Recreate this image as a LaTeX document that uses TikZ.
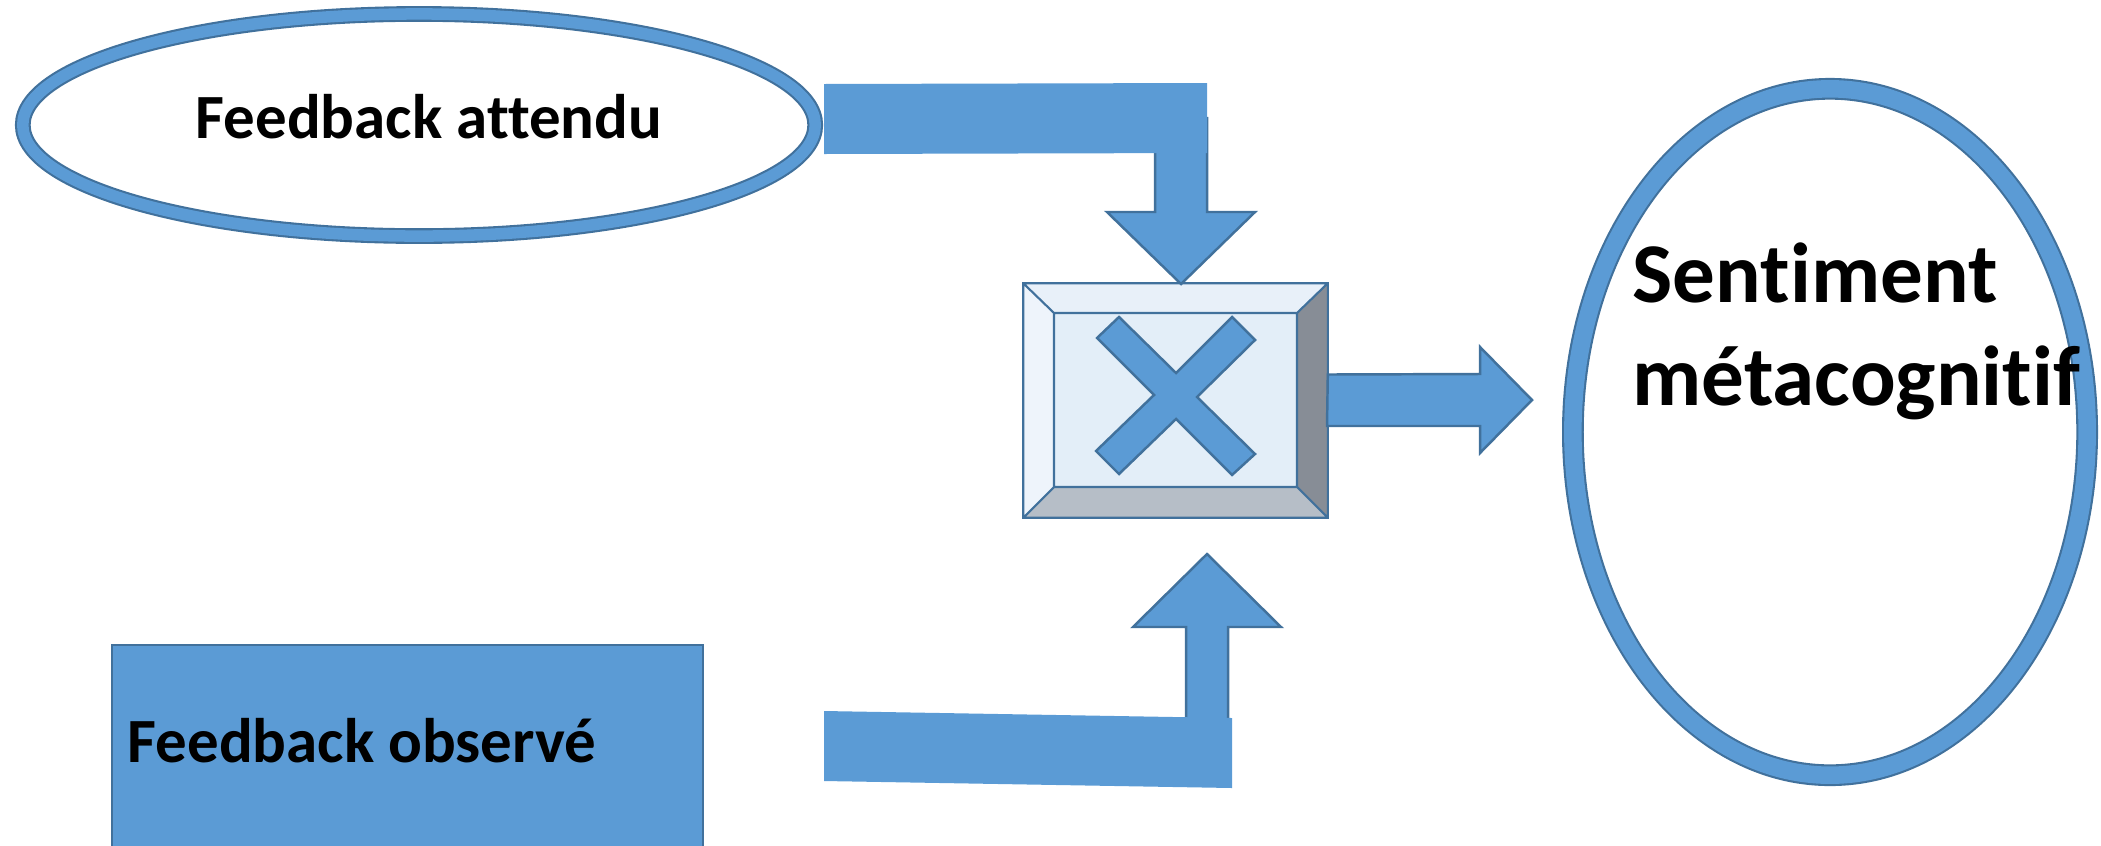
\documentclass[tikz,border=0pt]{standalone}
\usepackage{fontspec}
\setmainfont{Carlito}[Ligatures=NoCommon]
\usetikzlibrary{shapes.geometric}
\definecolor{oblue}{HTML}{5B9BD5}
\definecolor{oline}{HTML}{41719C}
\definecolor{bvtop}{HTML}{E8F0F9}
\definecolor{bvleft}{HTML}{EEF4FB}
\definecolor{bvright}{HTML}{878D96}
\definecolor{bvbottom}{HTML}{B6BEC7}
\definecolor{bvface}{HTML}{E3EEF8}

\begin{document}
\begin{tikzpicture}[x=0.01cm, y=-0.01cm,
  ring/.style={ellipse, draw=oline, line width=0.6pt, double=oblue, fill=white, inner sep=0pt},
  blockarrow/.style={fill=oblue, draw=oline, line width=0.7pt, line join=miter},
  lbl/.style={font=\bfseries\fontsize{17.9}{21}\selectfont, anchor=base west, inner sep=0pt},
  biglbl/.style={font=\bfseries\fontsize{24.2}{29.3}\selectfont, anchor=base west, inner sep=0pt}]
 \clip (0,0) rectangle (2101,845);
 % the three sources and the result
 \node[ring, double distance=1.15mm, minimum width=7.92cm, minimum height=2.22cm] (attendu) at (419,125) {};
 \node[ring, double distance=1.75mm, minimum width=5.14cm, minimum height=6.86cm] (sentiment) at (1830,432) {};
 \node[draw=oline, fill=oblue, line width=0.6pt, minimum width=5.91cm, minimum height=2.4cm, anchor=north west, inner sep=0pt] (observe) at (111,644) {};
 \node[lbl] (attendulbl) at (195,138) {Feedback attendu};
 \node[lbl] (observelbl) at (127,762) {Feedback observé};
 \node[biglbl] (sentimentlbl) at (1632,302) {Sentiment};
 \node[biglbl] (sentimentlbl2) at (1632,405) {métacognitif};
 % bevelled multiply box
 \node[minimum width=3.03cm, minimum height=2.33cm, inner sep=0pt] (mult) at (1175.5,400.5) {};
 \fill[bvtop] (1024,284) -- (1327,284) -- (1297,313) -- (1054,313) -- cycle;
 \fill[bvleft] (1024,284) -- (1054,313) -- (1054,487) -- (1024,517) -- cycle;
 \fill[bvright] (1327,284) -- (1327,517) -- (1297,487) -- (1297,313) -- cycle;
 \fill[bvbottom] (1024,517) -- (1327,517) -- (1297,487) -- (1054,487) -- cycle;
 \fill[bvface] (1054,313) rectangle (1297,487);
 \draw[oline, line width=0.6pt] (mult.north west) rectangle (mult.south east) (1054,313) rectangle (1297,487)
   (mult.north west) -- (1054,313) (mult.north east) -- (1297,313) (mult.south west) -- (1054,487) (mult.south east) -- (1297,487);
 \draw[blockarrow] (1119,317) -- (1176,373) -- (1232,317) -- (1255,340) -- (1197,397) -- (1255,454) -- (1232,475)
   -- (1176,419) -- (1119,474) -- (1096,451) -- (1154,395) -- (1097,338) -- cycle;
 % block arrows
 \draw[blockarrow] (1155,118) -- (1155,212) -- (1107,212) -- (1181,284) -- (1255,212) -- (1207,212) -- (1207,118) -- cycle;
 \fill[oblue] (824,84) -- (1207,83) -- (1207,153) -- (824,154) -- cycle;
 \draw[blockarrow] (mult.east) ++(0,-26) -- (1480,374) -- (1480,347) -- (1532,400) -- (1480,453) -- (1480,426) -- (1327,426) -- cycle;
 \draw[blockarrow] (1186,745) -- (1186,627) -- (1133,627) -- (1207,554) -- (1281,627) -- (1228,627) -- (1228,745) -- cycle;
 \fill[oblue] (824,711) -- (1232,718) -- (1232,788) -- (824,781) -- cycle;
\end{tikzpicture}
\end{document}
